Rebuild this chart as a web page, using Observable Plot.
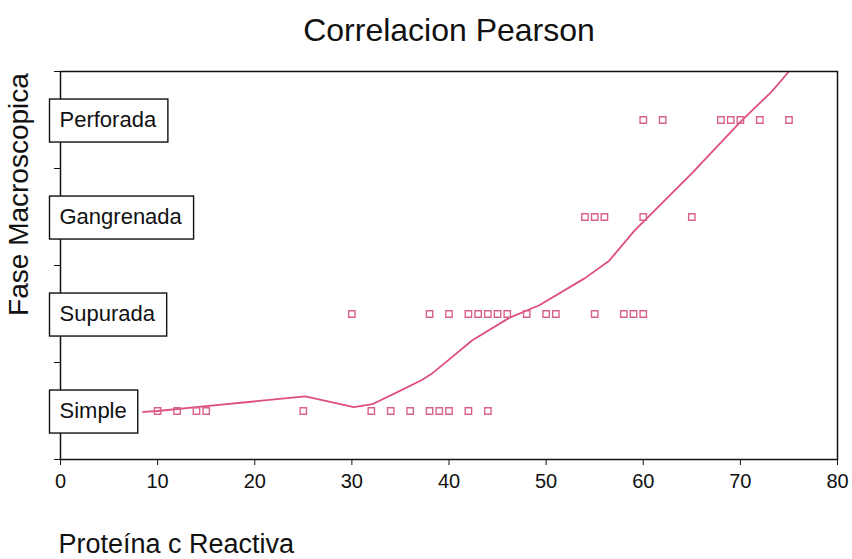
<!DOCTYPE html>
<html>
<head>
<meta charset="utf-8">
<script src="https://cdn.jsdelivr.net/npm/d3@7"></script>
<script src="https://cdn.jsdelivr.net/npm/@observablehq/plot@0.6"></script>
<style>
  html, body { margin: 0; padding: 0; background: #fff; }
  #chart { width: 852px; height: 559px; }
</style>
</head>
<body>
<div id="chart"></div>
<script>
// Fase macroscópica (ordinal 1..4) frente a Proteína C reactiva
const categories = ["Simple", "Supurada", "Gangrenada", "Perforada"];
const simplePCR = [10, 12, 14, 15, 25, 32, 34, 36, 38, 39, 40, 42, 44];
const supuradaPCR = [30, 38, 40, 42, 43, 44, 45, 46, 48, 50, 51, 55, 58, 59, 60];
const gangrenadaPCR = [54, 55, 56, 60, 65];
const perforadaPCR = [60, 62, 68, 69, 70, 72, 75];

// Curva de ajuste (suavizado)
const fitPCR  = [8.5, 10, 15, 25.2, 30.2, 32.1, 35, 37.2, 38.3, 40, 42.4, 46.2, 49.3, 54, 56.5, 59.1, 65, 70.1, 73.2, 75];
const fitFase = [0.99, 1.0, 1.05, 1.15, 1.04, 1.07, 1.21, 1.32, 1.39, 1.53, 1.73, 1.96, 2.09, 2.37, 2.55, 2.86, 3.45, 3.99, 4.29, 4.5];

const xTicks = [0, 10, 20, 30, 40, 50, 60, 70, 80];
const yTicks = [0.5, 1.5, 2.5, 3.5, 4.5];

const title = "Correlacion Pearson";
const xLabel = "Proteína c Reactiva";
const yLabel = "Fase Macroscopica";

const groups = [simplePCR, supuradaPCR, gangrenadaPCR, perforadaPCR];
const points = groups.flatMap((xs, i) => xs.map(x => ({pcr: x, fase: i + 1})));
const fit = fitPCR.map((x, i) => ({pcr: x, fase: fitFase[i]}));
const labels = categories.map((c, i) => ({name: c, fase: i + 1}));

const pink = "#de4f80";

const svg = Plot.plot({
  width: 852,
  height: 559,
  marginLeft: 60,
  marginRight: 15,
  marginTop: 71,
  marginBottom: 100,
  style: {fontFamily: "'Liberation Sans', Arial, sans-serif", fontSize: "20px", color: "#111", background: "#fff"},
  x: {domain: [0, 80], ticks: xTicks, tickSize: 6, tickPadding: 8, label: null},
  y: {domain: [0.5, 4.5], ticks: yTicks, tickSize: 6, tickFormat: () => "", label: null},
  marks: [
    Plot.line(fit, {x: "pcr", y: "fase", stroke: pink, strokeWidth: 1.8}),
    Plot.dot(points, {x: "pcr", y: "fase", symbol: "square", r: 3.6, stroke: "#d9628c", strokeWidth: 1.4, fill: "none"}),
    Plot.frame({stroke: "#111", strokeWidth: 1.5}),
    Plot.text(labels, {
      x: () => 0, y: "fase", text: "name", textAnchor: "start", lineAnchor: "middle", dx: -1,
      fontSize: 22, fill: "#111", ariaLabel: () => "category box"
    }),
    Plot.text([title], {text: d => d, frameAnchor: "top", textAnchor: "middle", lineAnchor: "middle", dy: -41, fontSize: 32, fill: "#111"}),
    Plot.text([xLabel], {text: d => d, frameAnchor: "bottom-left", textAnchor: "start", lineAnchor: "middle", dx: -2, dy: 85, fontSize: 27, fill: "#111"}),
    Plot.text([yLabel], {text: d => d, frameAnchor: "top-left", textAnchor: "middle", lineAnchor: "middle", rotate: -90, dx: -41, dy: 123, fontSize: 28, fill: "#111"})
  ]
});

document.getElementById("chart").appendChild(svg);

// Recuadros blancos detrás de las etiquetas de categoría
d3.select(svg).selectAll('text[aria-label="category box"]').each(function() {
  const b = this.getBBox();
  const padL = 10, padR = 11, h = 43;
  const cy = b.y + b.height / 2;
  d3.select(this.parentNode)
    .insert("rect", () => this)
    .attr("transform", this.getAttribute("transform"))
    .attr("x", b.x - padL)
    .attr("y", cy - h / 2 + 1)
    .attr("width", b.width + padL + padR)
    .attr("height", h)
    .attr("fill", "#fff")
    .attr("stroke", "#111")
    .attr("stroke-width", 1.4);
});
</script>
</body>
</html>
